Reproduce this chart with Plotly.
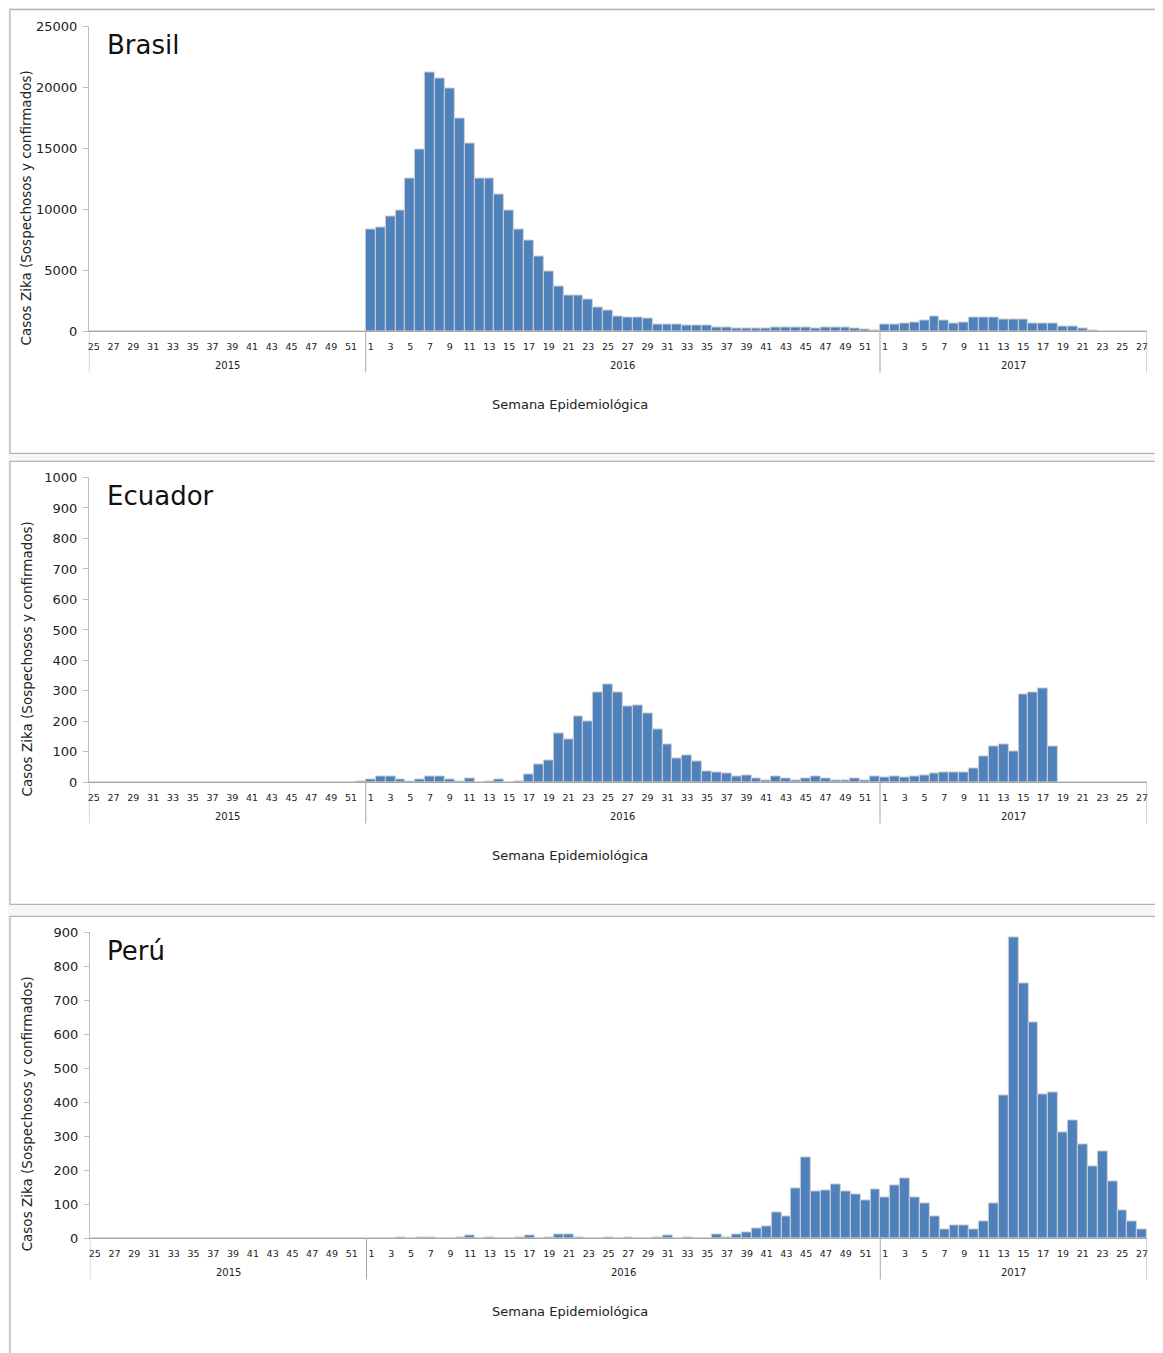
import plotly.graph_objects as go

# ---------------- data ----------------
years = ["2015", "2016", "2017"]
weeks_2015 = list(range(25, 53))   # 28 weeks
weeks_2016 = list(range(1, 53))    # 52 weeks
weeks_2017 = list(range(1, 28))    # 27 weeks

brasil_2015 = [0] * 28
brasil_2016 = [8400, 8500, 9400, 9950, 12500, 14900, 21200, 20750, 19950, 17450,
               15450, 12500, 12500, 11250, 9950, 8400, 7450, 6150, 4900, 3700,
               2950, 2950, 2650, 1950, 1700, 1250, 1150, 1150, 1050, 600,
               600, 600, 450, 450, 450, 350, 350, 250, 250, 250,
               250, 330, 330, 330, 330, 250, 330, 330, 330, 250,
               140, 40]
brasil_2017 = [600, 600, 680, 760, 925, 1230, 925, 680, 760, 1150,
               1150, 1150, 1010, 1010, 1010, 680, 680, 680, 410, 410,
               220, 50, 0, 0, 0, 0, 0]

ecuador_2015 = [0] * 27 + [3]
ecuador_2016 = [9, 20, 20, 9, 4, 9, 20, 20, 9, 4,
                12, 1, 4, 9, 1, 4, 26, 59, 73, 161,
                141, 216, 199, 296, 321, 296, 249, 254, 225, 174,
                124, 77, 87, 70, 37, 33, 30, 19, 23, 13,
                8, 20, 13, 8, 12, 20, 13, 8, 8, 13,
                8, 20]
ecuador_2017 = [15, 20, 15, 20, 24, 31, 33, 33, 33, 45,
                84, 119, 124, 103, 290, 296, 307, 119, 0, 0,
                0, 0, 0, 0, 0, 0, 0]

peru_2015 = [0] * 28
peru_2016 = [0, 0, 0, 2, 0, 2, 2, 0, 0, 2,
             8, 0, 2, 0, 0, 2, 8, 0, 4, 11,
             11, 2, 0, 0, 2, 0, 2, 0, 0, 2,
             8, 0, 2, 0, 0, 11, 2, 11, 17, 29,
             36, 75, 66, 147, 237, 137, 140, 160, 137, 130,
             112, 144]
peru_2017 = [122, 157, 176, 122, 104, 66, 27, 37, 37, 27,
             50, 104, 421, 885, 750, 636, 424, 430, 312, 347,
             276, 212, 257, 167, 83, 50, 27]

countries = ["Brasil", "Ecuador", "Perú"]
y_max = [25000, 1000, 900]
y_step = [5000, 100, 100]

y_title = "Casos Zika (Sospechosos y confirmados)"
x_title = "Semana Epidemiológica"

# ---------------- layout helpers ----------------
# body keeps its default 8px margin; an empirical vertical correction
# (A, S) maps the target picture rows to page rows.
W, H = 1163, 1353
OFF = 8
A, S = 6.6, 0.989
FW, FH = W - 2 * OFF, H
def px(x):
    return (x - OFF) / FW
def py(y):
    page = (y - A) / S
    return 1 - (page - OFF) / FH

BAR = "#4F81BD"
EDGE = "#d0d0d0"
AXC = "#a6a6a6"
FONT = "Verdana, DejaVu Sans, sans-serif"

week_groups = [weeks_2015, weeks_2016, weeks_2017]
all_weeks = weeks_2015 + weeks_2016 + weeks_2017
n = len(all_weeks)
idx = list(range(n))
tickvals = [i for i in idx if all_weeks[i] % 2 == 1]
ticktext = [str(all_weeks[i]) for i in tickvals]

series = [
    brasil_2015 + brasil_2016 + brasil_2017,
    ecuador_2015 + ecuador_2016 + ecuador_2017,
    peru_2015 + peru_2016 + peru_2017,
]

# pixel geometry of each panel: (plot top, plot bottom, box top, box bottom, plot left)
panels = [
    (26, 331, 9, 453, 88),
    (477, 782, 461, 904, 88),
    (932, 1238, 916, 1400, 89),
]
plot_right = 1148

fig = go.Figure()
shapes = []
annotations = []

for k, (name, vals) in enumerate(zip(countries, series)):
    top, bot, btop, bbot, left = panels[k]
    sfx = "" if k == 0 else str(k + 1)
    # panel box
    shapes.append(dict(type="rect", xref="paper", yref="paper",
                       x0=px(9), x1=px(1200), y0=py(bbot), y1=py(btop),
                       line=dict(color="#b4b4b4", width=1.3), fillcolor="white",
                       layer="below"))
    fig.add_trace(go.Bar(x=idx, y=vals, xaxis="x" + sfx, yaxis="y" + sfx,
                         marker=dict(color=BAR, line=dict(color=EDGE, width=1)),
                         hoverinfo="y", showlegend=False))
    fig.layout["xaxis" + sfx] = dict(
        domain=[px(left), px(plot_right)], anchor="y" + sfx,
        range=[-0.5, n - 0.5], tickvals=tickvals, ticktext=ticktext,
        tickangle=0, ticks="", ticklabelstandoff=6,
        tickfont=dict(family=FONT, size=9.5, color="#222"),
        showline=True, linecolor=AXC, linewidth=1, showgrid=False,
        zeroline=False, fixedrange=True)
    fig.layout["yaxis" + sfx] = dict(
        domain=[py(bot), py(top)], anchor="x" + sfx,
        range=[0, y_max[k]], dtick=y_step[k], tick0=0, tickformat="d",
        ticks="outside", ticklen=5, tickcolor="#bfbfbf", ticklabelstandoff=3,
        tickfont=dict(family=FONT, size=13, color="#222"),
        showline=True, linecolor="#bfbfbf", linewidth=1, showgrid=False,
        zeroline=False, fixedrange=True)
    # group dividers and year labels
    start = 0
    bounds = [-0.5]
    for yr, wk in zip(years, week_groups):
        end = start + len(wk)
        bounds.append(end - 0.5)
        annotations.append(dict(text=yr, xref="x" + sfx, yref="paper",
                                x=(start + end - 1) / 2, y=py(bot + 34),
                                showarrow=False, yanchor="middle",
                                font=dict(family=FONT, size=10, color="#222")))
        start = end
    for b in bounds:
        shapes.append(dict(type="line", xref="x" + sfx, yref="paper",
                           x0=b, x1=b, y0=py(bot), y1=py(bot + 41),
                           line=dict(color=AXC, width=1)))
    # panel title
    annotations.append(dict(text=name, xref="paper", yref="paper",
                            x=px(104), y=py(top + 19), xanchor="left",
                            yanchor="middle", showarrow=False,
                            font=dict(family="DejaVu Sans, sans-serif", size=26,
                                      color="#111")))
    # axis titles
    annotations.append(dict(text=y_title, xref="paper", yref="paper",
                            x=px(26), y=py(top + 181), textangle=-90,
                            showarrow=False, xanchor="center", yanchor="middle",
                            font=dict(family=FONT, size=13.5, color="#222")))
    annotations.append(dict(text=x_title, xref="paper", yref="paper",
                            x=px(570), y=py(bot + 73), showarrow=False,
                            xanchor="center", yanchor="middle",
                            font=dict(family=FONT, size=13, color="#222")))

fig.update_layout(
    width=FW, height=FH, margin=dict(l=0, r=0, t=0, b=0),
    paper_bgcolor="#f6f6f6", plot_bgcolor="rgba(0,0,0,0)",
    bargap=0.0, shapes=shapes, annotations=annotations,
)

fig.write_html("out.html", config={"displayModeBar": False})
